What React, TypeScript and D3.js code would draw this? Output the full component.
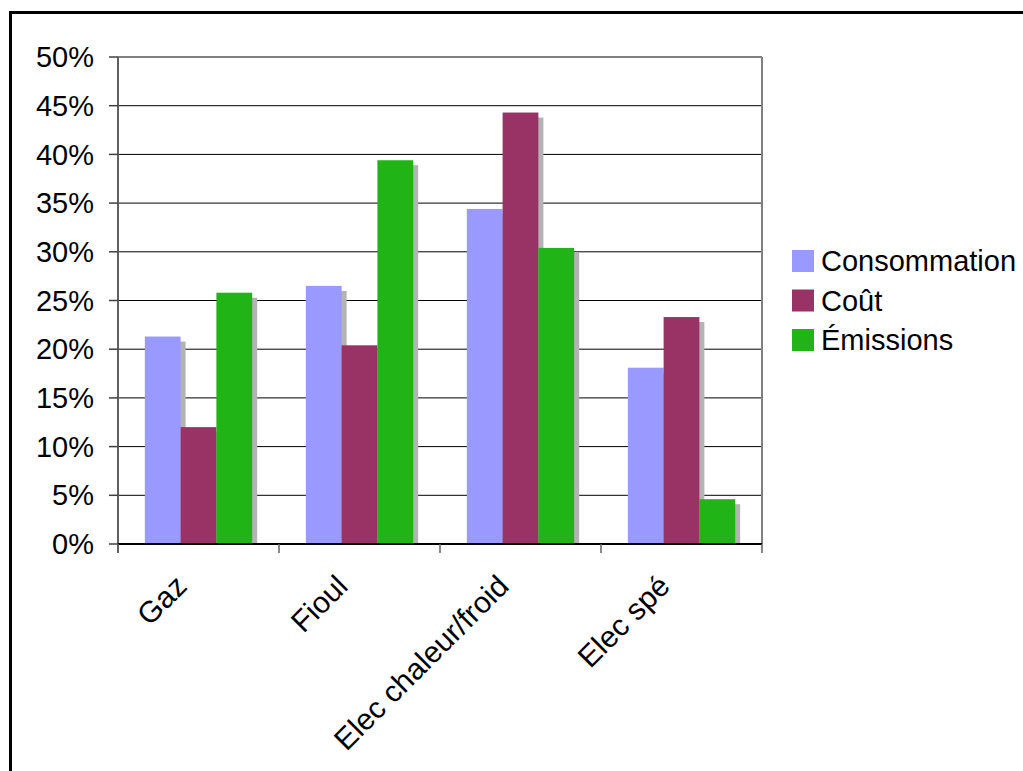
import React from "react";
import * as d3 from "d3";

const categories = ["Gaz", "Fioul", "Elec chaleur/froid", "Elec spé"];
const seriesNames = ["Consommation", "Coût", "Émissions"];
const consommation = [21.3, 26.5, 34.4, 18.1];
const cout = [12.0, 20.4, 44.3, 23.3];
const emissions = [25.8, 39.4, 30.4, 4.6];
const yTicks = [0, 5, 10, 15, 20, 25, 30, 35, 40, 45, 50];
const colors = ["#9999ff", "#993366", "#20b416"];

const seriesValues = [consommation, cout, emissions];

export default function App() {
  const W = 1023, H = 771;
  const left = 118, right = 762, top = 57, bottom = 544;
  const x = d3.scaleBand<string>().domain(categories).range([left, right]).paddingInner(0).paddingOuter(0);
  const inner = d3.scaleBand<number>().domain([0, 1, 2]).range([0, x.bandwidth()]).paddingInner(0).paddingOuter(0.75);
  const y = d3.scaleLinear().domain([0, 50]).range([bottom, top]);
  const font = "'Liberation Sans', Arial, sans-serif";
  const fs = 29;
  const boundaries = d3.range(categories.length + 1).map((i) => left + i * x.step());

  return (
    <svg width={W} height={H} style={{ position: "absolute", left: 0, top: 0, background: "#fff" }} fontFamily={font}>
      <rect x={0} y={0} width={W} height={H} fill="#fff" />
      <rect x={10.5} y={12.5} width={1200} height={1000} fill="none" stroke="#000" strokeWidth={3} />
      {/* gridlines */}
      {yTicks.map((t) => (
        <line key={"g" + t} x1={left} x2={right} y1={y(t)} y2={y(t)} stroke="#000" strokeWidth={1} />
      ))}
      {/* plot border */}
      <line x1={left} x2={right} y1={top} y2={top} stroke="#808080" strokeWidth={2} />
      <line x1={right} x2={right} y1={top} y2={bottom} stroke="#808080" strokeWidth={2} />
      {/* bars */}
      {seriesValues.map((vals, si) => (
        <g key={"s" + si}>
          {vals.map((v, ci) => {
            const bx = (x(categories[ci]) as number) + (inner(si) as number);
            const bw = inner.bandwidth();
            return (
              <g key={ci}>
                <rect x={bx + 5} y={y(v) + 5} width={bw} height={bottom - y(v) - 5} fill="#b3b3b3" />
                <rect x={bx} y={y(v)} width={bw} height={bottom - y(v)} fill={colors[si]} />
              </g>
            );
          })}
        </g>
      ))}
      {/* y axis */}
      <line x1={left} x2={left} y1={top} y2={bottom + 9} stroke="#606060" strokeWidth={2} />
      {yTicks.map((t) => (
        <g key={"t" + t}>
          <line x1={left - 9} x2={left} y1={y(t)} y2={y(t)} stroke="#404040" strokeWidth={1.5} />
          <text x={94} y={y(t)} dy="0.35em" textAnchor="end" fontSize={fs} fill="#000">
            {t + "%"}
          </text>
        </g>
      ))}
      {/* x axis */}
      <line x1={left} x2={right} y1={bottom} y2={bottom} stroke="#000" strokeWidth={2} />
      {boundaries.map((b, i) => (
        <line key={"b" + i} x1={b} x2={b} y1={bottom} y2={bottom + 9} stroke="#606060" strokeWidth={1.5} />
      ))}
      {categories.map((c) => {
        const cx = (x(c) as number) + x.bandwidth() / 2;
        return (
          <text key={c} transform={`translate(${cx - 10},${588}) rotate(-45)`} textAnchor="end" fontSize={30} fill="#000">
            {c}
          </text>
        );
      })}
      {/* legend */}
      {seriesNames.map((n, i) => {
        const cy = 261 + i * 39.5;
        return (
          <g key={n}>
            <rect x={792} y={cy - 11} width={22} height={22} fill={colors[i]} />
            <text x={821} y={cy} dy="0.35em" fontSize={fs} fill="#000">
              {n}
            </text>
          </g>
        );
      })}
    </svg>
  );
}
